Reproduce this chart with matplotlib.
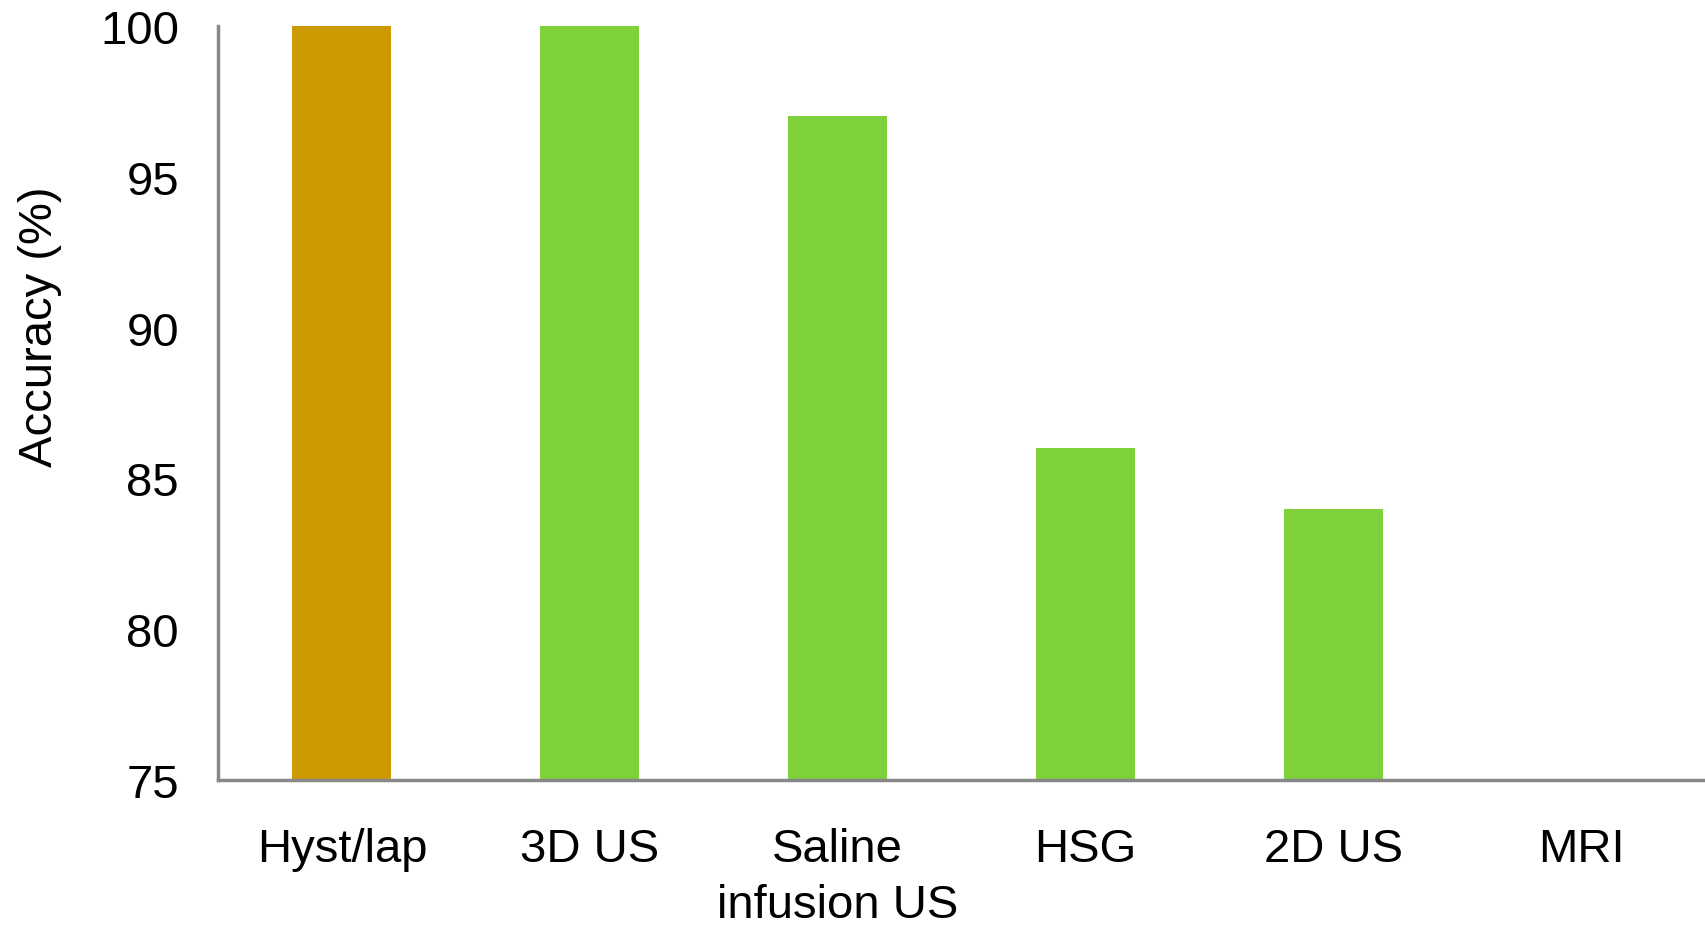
import numpy as np
import matplotlib.pyplot as plt

plt.rcParams['font.family'] = ['Liberation Sans', 'DejaVu Sans']

# Diagnostic accuracy per method
methods = ['Hyst/lap', '3D US', 'Saline\ninfusion US', 'HSG', '2D US', 'MRI']
accuracy = [100, 100, 97, 86, 84, np.nan]
colors = ['#CC9900', '#7FD13C', '#7FD13C', '#7FD13C', '#7FD13C', '#7FD13C']
yticks = [75, 80, 85, 90, 95, 100]

fig = plt.figure(figsize=(17.05, 9.29), dpi=100)
ax = fig.add_axes([218 / 1705, 1 - 781 / 929, 1 - 218 / 1705, (781 - 27) / 929])

x = np.arange(len(methods))
ax.bar(x, accuracy, width=0.4, color=colors, bottom=0, zorder=2)

ax.set_xlim(-0.5, len(methods) - 0.5)
ax.set_ylim(75, 100)
ax.set_yticks(yticks)
ax.set_xticks(x)
ax.set_xticklabels(methods, fontsize=34, linespacing=1.36, va='top')
ax.tick_params(axis='y', labelsize=34, length=0, pad=28)
ax.tick_params(axis='x', length=0, pad=34)

ax.set_ylabel('Accuracy (%)', fontsize=34)
ax.yaxis.set_label_coords(-0.105, 0.603)

for side in ['top', 'right']:
    ax.spines[side].set_visible(False)
for side in ['left', 'bottom']:
    ax.spines[side].set_color('#888888')
    ax.spines[side].set_linewidth(2.5)
    ax.spines[side].set_zorder(3)

fig.savefig('out.png', dpi=100)
